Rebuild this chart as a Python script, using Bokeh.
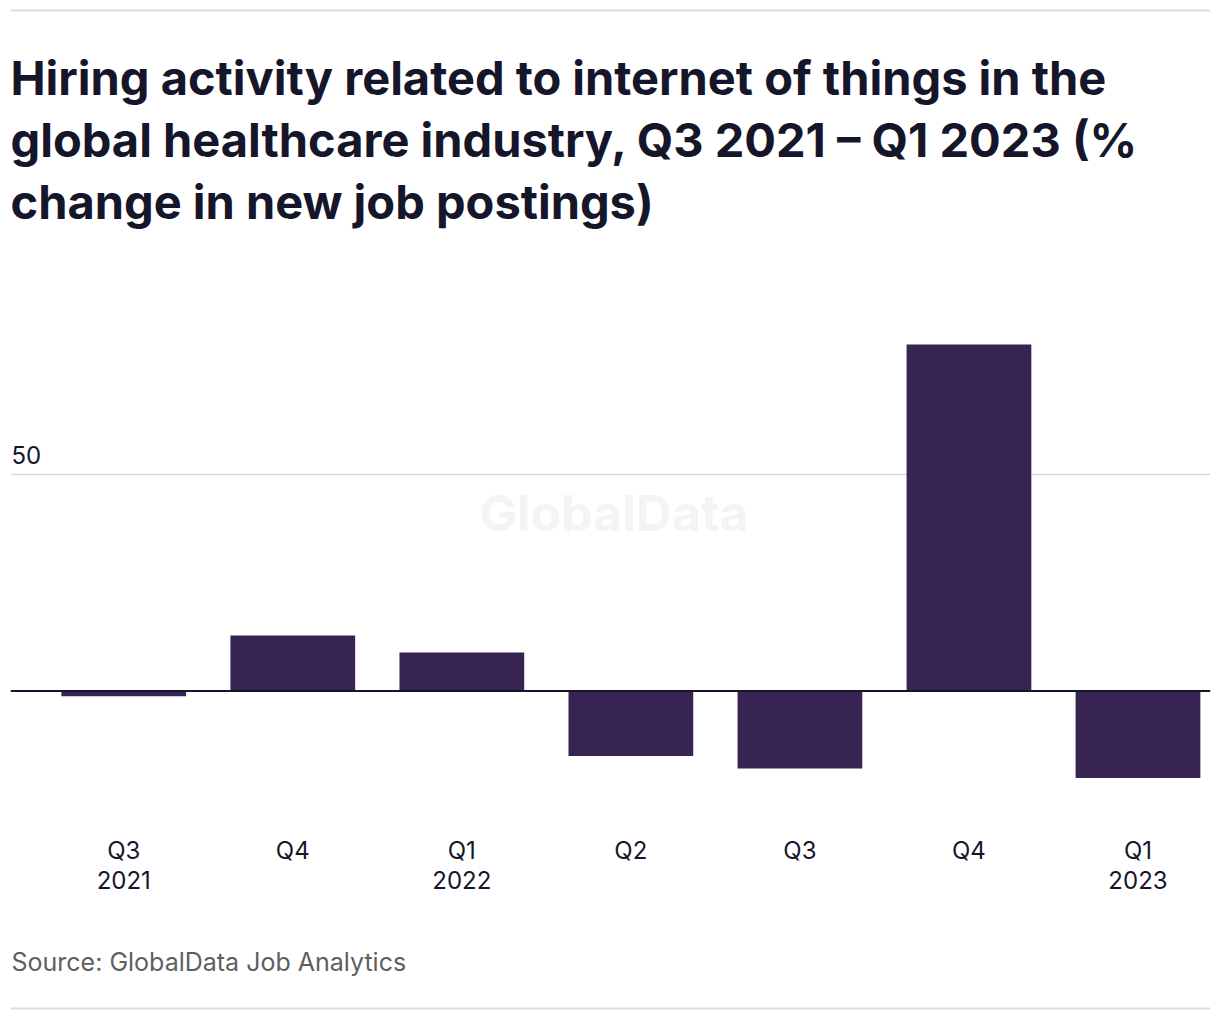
from bokeh.plotting import figure
from bokeh.models import Range1d, FixedTicker, Label, Span
from bokeh.layouts import column
from bokeh.embed import file_html
from bokeh.resources import INLINE

# ---- data ----
quarter_labels = ["Q3\n2021", "Q4", "Q1\n2022", "Q2", "Q3", "Q4", "Q1\n2023"]
pct_change = [-1.2, 12.8, 8.9, -15.0, -17.9, 80.0, -20.1]
y_ticks = [50]
title_lines = [
    "Hiring activity related to internet of things in the",
    "global healthcare industry, Q3 2021 \u2013 Q1 2023 (%",
    "change in new job postings)",
]
source_text = "Source: GlobalData Job Analytics"

BAR = "#372453"
INK = "#16162b"
GRID = "#d9d9d9"
RULE = "#dddddd"
FONT = "Inter"

# layout (page pixels)
W = 1215
FRAME_L, FRAME_R = 10, 1210
FRAME_T, FRAME_B = 8, 800
ZERO_Y, PX_PER_UNIT = 690.5, 4.33
MAIN_H = 905
FOOT_H = 1014 - MAIN_H


def ydata(page_y):
    return (ZERO_Y - page_y) / PX_PER_UNIT


X0, X1 = -0.670, 6.429
p = figure(width=W, height=MAIN_H, output_backend="svg", toolbar_location=None,
           x_range=Range1d(X0, X1), y_range=Range1d(ydata(FRAME_B), ydata(FRAME_T)),
           min_border_left=FRAME_L, min_border_right=W - FRAME_R,
           min_border_top=FRAME_T, min_border_bottom=MAIN_H - FRAME_B)
p.outline_line_color = None
p.background_fill_color = "white"
p.border_fill_color = "white"

xs = list(range(len(pct_change)))
p.vbar(x=xs, top=pct_change, bottom=0, width=0.738, color=BAR, line_color=None)

# axes
p.yaxis.visible = False
p.xaxis.ticker = FixedTicker(ticks=xs)
p.xaxis.major_label_overrides = {i: lab for i, lab in zip(xs, quarter_labels)}
p.xaxis.axis_line_color = None
p.xaxis.major_tick_line_color = None
p.xaxis.minor_tick_line_color = None
p.xaxis.major_tick_out = 0
p.xaxis.major_tick_in = 0
p.xaxis.major_label_standoff = 35
p.xaxis.major_label_text_font = FONT
p.xaxis.major_label_text_font_size = "24px"
p.xaxis.major_label_text_line_height = 1.06
p.xaxis.major_label_text_color = INK
p.xgrid.visible = False
p.ygrid.ticker = FixedTicker(ticks=y_ticks)
p.ygrid.grid_line_color = GRID
p.ygrid.grid_line_width = 1.5

# zero line
p.add_layout(Span(location=0, dimension="width", line_color=INK, line_width=2))

# top rule
p.add_layout(Span(location=ydata(10), dimension="width", line_color=RULE, line_width=2))

# y tick label inside plot
for t in y_ticks:
    p.add_layout(Label(x=X0, y=t, text=str(t), x_offset=1, y_offset=11,
                       text_font=FONT, text_font_size="24px", text_color=INK,
                       text_baseline="bottom", text_align="left"))

# watermark
p.add_layout(Label(x=2.9, y=ydata(512), text="GlobalData", text_font=FONT,
                   text_font_size="50px", text_font_style="bold",
                   text_color="#f4f4f4", text_align="center",
                   text_baseline="middle"))

# title lines
for i, line in enumerate(title_lines):
    p.add_layout(Label(x=X0, y=ydata(77 + 62 * i), x_offset=0, text=line,
                       text_font=FONT, text_font_size="47px",
                       text_font_style="bold", text_color=INK,
                       text_baseline="alphabetic", text_align="left"))

# footer figure: source + bottom rule (frame aligned with main frame)
f = figure(width=W, height=FOOT_H, output_backend="svg", toolbar_location=None,
           x_range=Range1d(FRAME_L, FRAME_R), y_range=Range1d(FOOT_H, 0),
           x_axis_type=None, y_axis_type=None,
           min_border_left=FRAME_L, min_border_right=W - FRAME_R,
           min_border_top=0, min_border_bottom=0)
f.outline_line_color = None
f.grid.visible = False
f.border_fill_color = "white"
f.background_fill_color = "white"
f.add_layout(Label(x=11, y=961 - MAIN_H, text=source_text, text_font=FONT,
                   text_font_size="25px", text_color="#5f5f5f",
                   text_baseline="middle", text_align="left"))
f.add_layout(Span(location=1008 - MAIN_H, dimension="width", line_color=RULE,
                  line_width=2))

layout = column(p, f, spacing=0)
open("out.html", "w").write(file_html(layout, INLINE))
